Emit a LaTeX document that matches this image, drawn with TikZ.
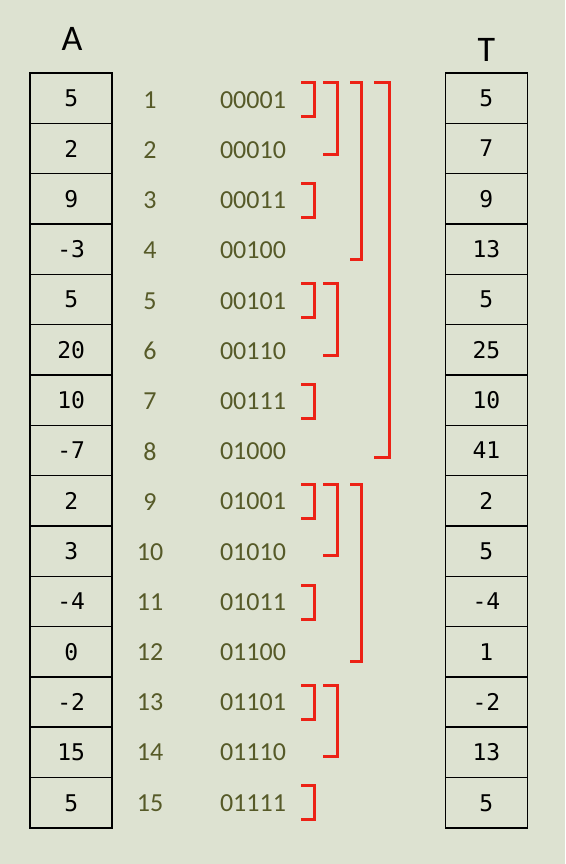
\documentclass[tikz,border=0pt]{standalone}
\usepackage{fontspec}
\setmainfont{Carlito}
\newfontfamily\cellfont{DejaVu Sans Mono}
\definecolor{bg}{RGB}{221,226,209}
\definecolor{olivetext}{RGB}{86,90,40}
\definecolor{bred}{RGB}{236,34,22}
\newcommand\mybracket[4]{\draw[brk] (#1,#3) -- (#2,#3) -- (#2,#4) -- (#1,#4);}
\begin{document}
\begin{tikzpicture}[x=1pt,y=-1pt,
  cell/.style={draw=black,line width=1.6pt,minimum width=82pt,minimum height=50.33pt,inner sep=0pt,font=\cellfont\fontsize{23}{23}\selectfont},
  idx/.style={text=olivetext,inner sep=0pt,font=\fontsize{26}{26}\selectfont},
  title/.style={text=black,inner sep=0pt,font=\fontsize{36}{36}\selectfont},
  brk/.style={draw=bred,line width=3pt,line join=miter}]
\fill[bg] (0,0) rectangle (565,864);
\useasboundingbox (0,0) rectangle (565,864);
\node[title] (tA) at (72,38.5) {A};
\node[title] (tT) at (486.5,50) {T};
\foreach \i/\b/\a/\t in {1/00001/5/5, 2/00010/2/7, 3/00011/9/9, 4/00100/-3/13, 5/00101/5/5, 6/00110/20/25, 7/00111/10/10, 8/01000/-7/41, 9/01001/2/2, 10/01010/3/5, 11/01011/-4/-4, 12/01100/0/1, 13/01101/-2/-2, 14/01110/15/13, 15/01111/5/5} {
  \pgfmathsetmacro\yc{73+50.33*(\i-0.5)}
  \pgfmathsetmacro\yl{100+50.2*(\i-1)}
  \node[cell] (a\i) at (71.2,\yc) {\a};
  \node[cell] (t\i) at (486.4,\yc) {\t};
  \node[idx] (i\i) at (150,\yl) {\i};
  \node[idx] (b\i) at (253,\yl) {\b};
}
% level 1 brackets (single rows)
\foreach \i in {1,3,...,15} {
  \pgfmathsetmacro\yl{100+50.2*(\i-1)}
  \pgfmathsetmacro\ytop{\yl-17}
  \pgfmathsetmacro\ybot{\yl+17}
  \mybracket{301}{314}{\ytop}{\ybot}
}
% level 2 brackets (pairs)
\foreach \i in {2,6,10,14} {
  \pgfmathsetmacro\ytop{100+50.2*(\i-2)-17}
  \pgfmathsetmacro\ybot{100+50.2*(\i-1)+4}
  \mybracket{323}{337.5}{\ytop}{\ybot}
}
% level 3 brackets (four rows)
\foreach \i in {4,12} {
  \pgfmathsetmacro\ytop{100+50.2*(\i-4)-17}
  \pgfmathsetmacro\ybot{100+50.2*(\i-1)+9}
  \mybracket{350}{361.5}{\ytop}{\ybot}
}
% level 4 bracket (eight rows)
\pgfmathsetmacro\ytop{100-17}
\pgfmathsetmacro\ybot{100+50.2*7+6}
\mybracket{374}{389}{\ytop}{\ybot}
\end{tikzpicture}
\end{document}
